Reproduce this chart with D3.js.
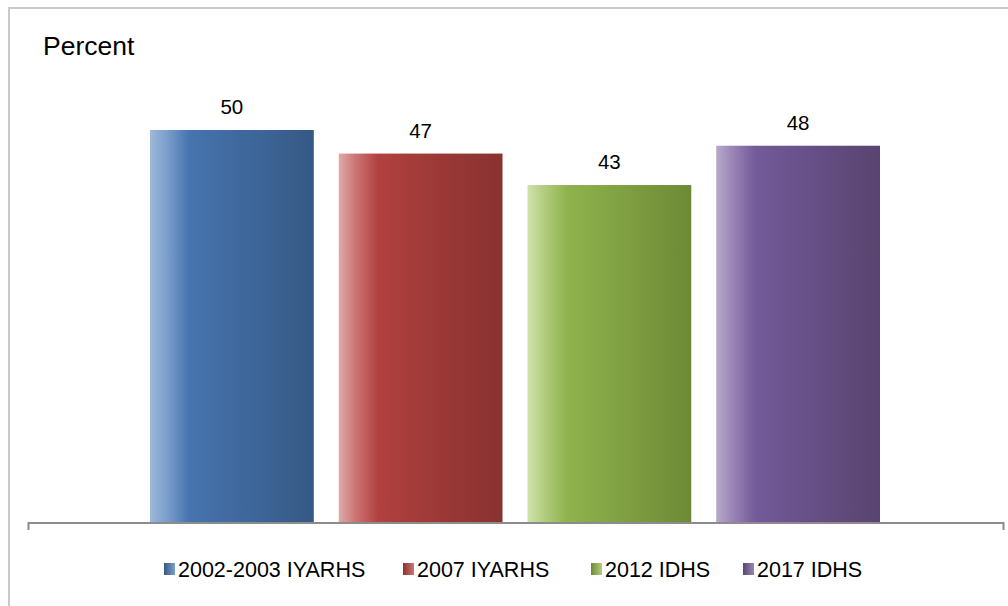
<!DOCTYPE html>
<html><head><meta charset="utf-8">
<script src="https://cdn.jsdelivr.net/npm/d3@7"></script>
<style>html,body{margin:0;padding:0;background:#fff;}svg{display:block;font-family:Arial,"Liberation Sans",sans-serif;}</style>
</head><body>
<script>
const categories = ["2002-2003 IYARHS", "2007 IYARHS", "2012 IDHS", "2017 IDHS"];
const values = [50, 47, 43, 48];
const axisLabel = "Percent";
const gradColors = [
  ["#9db8db", "#7c9fcc", "#4674ae", "#3e679b", "#355984"],
  ["#e0a9a8", "#cc7674", "#b1413f", "#9c3937", "#893230"],
  ["#d0e2ad", "#b2cd7f", "#8fb34c", "#7f9f41", "#6d8936"],
  ["#b7aacb", "#9a85b5", "#735a99", "#664f86", "#5a446f"]
];
const legendX = [164, 403, 591, 743];

const W = 1008, H = 606;
const svg = d3.select("body").append("svg").attr("width", W).attr("height", H);
const defs = svg.append("defs");
gradColors.forEach((cs, i) => {
  const g = defs.append("linearGradient").attr("id", "g" + i).attr("x1", 0).attr("x2", 1).attr("y1", 0).attr("y2", 0);
  [0, 0.1, 0.24, 0.6, 1].forEach((o, j) => g.append("stop").attr("offset", o).attr("stop-color", cs[j]));
  const l = defs.append("linearGradient").attr("id", "l" + i).attr("x1", 0).attr("x2", 1).attr("y1", 0).attr("y2", 0);
  l.append("stop").attr("offset", 0).attr("stop-color", cs[4]);
  l.append("stop").attr("offset", 1).attr("stop-color", cs[1]);
});

// frame
svg.append("rect").attr("x", 9).attr("y", 8).attr("width", W + 20).attr("height", H + 20)
  .attr("fill", "none").attr("stroke", "#c9c9c9").attr("stroke-width", 2);

const x = d3.scaleBand().domain(categories).range([150, 880]).paddingInner(25 / 189).paddingOuter(0);
const y = d3.scaleLinear().domain([0, 60]).range([523, 51.4]);

svg.append("text").attr("x", 43).attr("y", 55).attr("font-size", 26.5).attr("fill", "#000").text(axisLabel);

svg.selectAll("rect.bar").data(values).join("rect").attr("class", "bar")
  .attr("x", (d, i) => x(categories[i])).attr("width", x.bandwidth())
  .attr("y", d => y(d)).attr("height", d => y(0) - y(d))
  .attr("fill", (d, i) => `url(#g${i})`);

svg.selectAll("text.val").data(values).join("text").attr("class", "val")
  .attr("x", (d, i) => x(categories[i]) + x.bandwidth() / 2).attr("y", d => y(d) - 16)
  .attr("text-anchor", "middle").attr("font-size", 20.5).attr("fill", "#000").text(d => d);

// axis
const ax = svg.append("g").attr("transform", `translate(0,${y(0)})`);
ax.append("path").attr("d", "M28.5,7V0H1003.5V7").attr("fill", "none").attr("stroke", "#8c8c8c").attr("stroke-width", 2);

// legend
const lg = svg.selectAll("g.leg").data(categories).join("g").attr("class", "leg")
  .attr("transform", (d, i) => `translate(${legendX[i]},0)`);
lg.append("rect").attr("x", 0).attr("y", 563).attr("width", 11).attr("height", 12)
  .attr("fill", (d, i) => `url(#l${i})`);
lg.append("text").attr("x", 14).attr("y", 576.5).attr("font-size", 21.5).attr("fill", "#000").text(d => d);
</script>
</body></html>
